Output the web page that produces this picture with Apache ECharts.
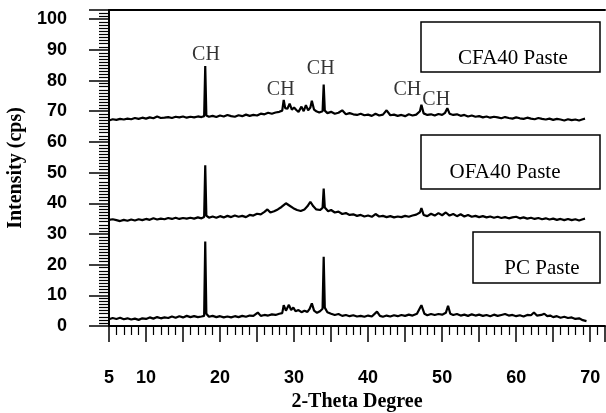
<!DOCTYPE html>
<html><head><meta charset="utf-8">
<script src="https://cdn.jsdelivr.net/npm/echarts@6/dist/echarts.min.js"></script>
<style>html,body{margin:0;padding:0;background:#fff}#c{width:606px;height:413px}</style>
</head><body><div id="c"></div>
<script>
// 2-Theta (deg), Intensity (cps) pairs
const cfa40 = [[5,67.0],[5.5,67.4],[6,67.2],[6.5,67.5],[7,67.3],[7.5,67.6],[8,67.4],[8.5,67.8],[9,67.5],[9.5,67.9],[10,67.6],[10.5,68.0],[11,67.7],[11.5,68.3],[12,67.8],[12.5,67.9],[13,68.1],[13.5,67.8],[14,68.2],[14.5,68.0],[15,68.3],[15.5,67.9],[16,68.2],[16.5,68.0],[17,68.3],[17.5,68.1],[17.85,68.4],[18.0,84.7],[18.15,68.6],[18.5,68.2],[19,68.5],[19.5,68.1],[20,68.6],[20.5,68.3],[21,68.8],[21.5,68.4],[22,68.2],[22.5,68.7],[23,68.4],[23.5,68.9],[24,68.5],[24.5,68.8],[25,68.6],[25.5,69.2],[26,69.0],[26.5,69.5],[27,69.2],[27.5,69.6],[28,69.8],[28.4,70.2],[28.6,73.7],[28.8,71.0],[29.1,70.8],[29.4,72.5],[29.7,70.5],[30.0,71.2],[30.3,70.4],[30.6,69.8],[31.0,71.5],[31.3,70.0],[31.6,72.0],[31.9,70.3],[32.2,71.2],[32.4,73.4],[32.7,70.5],[33.0,70.0],[33.4,69.6],[33.85,70.0],[34.0,78.7],[34.15,70.2],[34.5,69.4],[35,69.8],[35.5,69.2],[36,69.5],[36.5,70.3],[37,69.0],[37.5,69.4],[38,69.0],[38.5,68.8],[39,69.2],[39.5,68.7],[40,68.9],[40.5,68.5],[41,69.2],[41.5,68.6],[42,68.9],[42.5,70.3],[43,68.7],[43.5,68.9],[44,68.5],[44.5,68.8],[45,68.4],[45.5,69.0],[46,68.6],[46.5,68.9],[47.0,70.0],[47.2,72.1],[47.5,69.3],[48,68.8],[48.5,69.0],[49,68.6],[49.5,69.1],[50,68.8],[50.4,69.5],[50.7,71.0],[51.0,69.2],[51.5,68.8],[52,69.0],[52.5,68.5],[53,68.8],[53.5,68.3],[54,68.6],[54.5,68.2],[55,68.4],[55.5,68.0],[56,68.3],[56.5,67.9],[57,68.2],[57.5,68.0],[58,67.7],[58.5,68.1],[59,67.8],[59.5,67.6],[60,68.0],[60.5,67.7],[61,67.5],[61.5,67.9],[62,67.6],[62.5,67.4],[63,67.8],[63.5,67.5],[64,67.3],[64.5,67.6],[65,67.2],[65.5,67.5],[66,67.3],[66.5,67.0],[67,67.4],[67.5,67.1],[68,67.3],[68.5,67.0],[69,67.4],[69.3,67.6]];
const ofa40 = [[5,34.6],[5.5,34.8],[6,34.5],[6.5,34.2],[7,34.6],[7.5,34.3],[8,34.7],[8.5,34.4],[9,34.8],[9.5,34.5],[10,34.9],[10.5,34.6],[11,35.1],[11.5,34.7],[12,35.0],[12.5,34.8],[13,35.2],[13.5,34.9],[14,35.3],[14.5,34.9],[15,35.2],[15.5,35.0],[16,35.3],[16.5,35.0],[17,35.4],[17.5,35.1],[17.85,35.5],[18.0,52.4],[18.15,36.0],[18.5,35.3],[19,35.7],[19.5,35.3],[20,35.8],[20.5,35.4],[21,35.9],[21.5,35.5],[22,36.0],[22.5,35.6],[23,35.9],[23.5,35.5],[24,36.2],[24.5,36.0],[25,36.6],[25.5,36.4],[26,37.2],[26.4,38.0],[26.8,37.0],[27.3,37.4],[27.8,38.0],[28.3,38.8],[28.9,40.0],[29.4,39.2],[29.9,38.4],[30.4,37.8],[30.9,37.5],[31.4,38.0],[31.8,39.0],[32.2,40.5],[32.6,39.0],[33.0,38.0],[33.5,37.8],[33.85,38.5],[34.0,44.8],[34.15,38.6],[34.6,37.4],[35,37.8],[35.5,37.0],[36,37.3],[36.5,36.5],[37,36.8],[37.5,36.2],[38,36.4],[38.5,35.9],[39,36.2],[39.5,35.7],[40,36.0],[40.5,35.6],[41,36.5],[41.5,35.7],[42,35.9],[42.5,35.5],[43,35.8],[43.5,35.4],[44,35.7],[44.5,35.5],[45,35.9],[45.5,35.6],[46,36.0],[46.5,36.3],[47.0,37.0],[47.2,38.4],[47.5,36.2],[48,35.8],[48.5,36.6],[49,36.0],[49.5,36.8],[50,36.1],[50.5,37.0],[51,36.0],[51.5,36.5],[52,35.8],[52.5,36.4],[53,35.7],[53.5,36.2],[54,35.6],[54.5,35.9],[55,35.5],[55.5,35.8],[56,35.4],[56.5,35.7],[57,35.3],[57.5,35.6],[58,35.2],[58.5,35.5],[59,35.1],[59.5,35.4],[60,35.6],[60.5,35.1],[61,35.4],[61.5,35.0],[62,35.3],[62.5,34.9],[63,35.2],[63.5,34.8],[64,35.1],[64.5,34.7],[65,35.0],[65.5,34.6],[66,34.9],[66.5,34.5],[67,34.9],[67.5,34.5],[68,34.8],[68.5,34.4],[69,34.8],[69.3,35.0]];
const pc = [[5,2.2],[5.5,2.6],[6,2.3],[6.5,2.7],[7,2.2],[7.5,2.5],[8,2.1],[8.5,2.4],[9,2.0],[9.5,2.5],[10,2.3],[10.5,2.8],[11,2.4],[11.5,2.9],[12,2.5],[12.5,2.8],[13,2.6],[13.5,3.1],[14,2.7],[14.5,3.2],[15,2.8],[15.5,3.3],[16,2.9],[16.5,3.2],[17,2.9],[17.5,3.1],[17.85,3.3],[18.0,27.5],[18.15,4.0],[18.5,3.0],[19,3.3],[19.5,2.9],[20,3.2],[20.5,2.8],[21,3.1],[21.5,2.8],[22,3.2],[22.5,2.9],[23,3.3],[23.5,3.0],[24,3.4],[24.5,3.3],[25.1,4.4],[25.5,3.3],[26,3.6],[26.5,3.4],[27,3.8],[27.5,3.6],[28,4.0],[28.4,4.2],[28.6,6.8],[28.9,5.0],[29.3,6.9],[29.6,5.2],[29.9,6.0],[30.2,4.8],[30.6,5.2],[31.0,4.5],[31.4,5.0],[31.8,4.6],[32.1,5.6],[32.4,7.4],[32.7,5.0],[33.1,4.3],[33.5,4.8],[33.85,5.6],[34.0,22.6],[34.15,6.0],[34.5,4.5],[35,4.0],[35.5,3.6],[36,3.9],[36.5,3.3],[37,3.6],[37.5,3.2],[38,3.5],[38.5,3.1],[39,3.3],[39.5,3.0],[40,3.4],[40.5,3.1],[41.2,4.7],[41.6,3.3],[42,3.0],[42.5,3.4],[43,3.1],[43.5,3.5],[44,3.2],[44.5,3.6],[45,3.3],[45.5,3.7],[46,3.4],[46.6,4.0],[47.2,6.8],[47.6,4.0],[48,3.5],[48.5,3.9],[49,3.6],[49.5,3.9],[50,3.7],[50.5,4.3],[50.8,6.6],[51.1,4.0],[51.5,3.6],[52,3.9],[52.5,3.4],[53,3.7],[53.5,3.3],[54,3.8],[54.5,3.4],[55,3.7],[55.5,3.3],[56,3.6],[56.5,3.2],[57,3.7],[57.5,3.3],[58,3.6],[58.5,3.9],[59,3.4],[59.5,3.6],[60,3.2],[60.5,3.5],[61,3.1],[61.5,3.6],[62,3.5],[62.4,4.4],[62.8,3.4],[63.4,3.6],[63.8,4.0],[64.2,3.2],[64.6,3.4],[65,2.9],[65.5,3.2],[66,2.7],[66.5,3.0],[67,2.6],[67.5,2.8],[68,2.3],[68.5,2.5],[69,1.9],[69.5,1.6]];
// CH annotation anchors (2-Theta, intensity)
const chLabels = [[18.1,88.3],[28.2,76.9],[33.6,84.0],[45.3,76.9],[49.2,73.6]];
const xTickLabels = [5,10,20,30,40,50,60,70];
const yTickLabels = [0,10,20,30,40,50,60,70,80,90,100];
const sampleNames = ['CFA40 Paste','OFA40 Paste','PC Paste'];

const chart = echarts.init(document.getElementById('c'), null, {renderer:'canvas'});
const serif = '"Liberation Serif","Times New Roman",serif';
const sans = '"Liberation Sans",Arial,sans-serif';
const lineSeries = (d) => ({type:'line', data:d, showSymbol:false, symbol:'none', lineStyle:{color:'#000', width:2.2}, z:3, animation:false});
const boxes = [
  {x:421,y:22,w:179,h:50,tx:513,ty:58},
  {x:421,y:135,w:179,h:54,tx:505,ty:172},
  {x:473,y:232,w:127,h:51,tx:542,ty:268}
];
chart.setOption({
  animation:false,
  grid:{left:109, right:1, top:10, bottom:87, outerBoundsMode:'none', containLabel:false},
  xAxis:[{
    type:'value', min:5, max:72, interval:5,
    name:'2-Theta Degree', nameLocation:'middle', nameGap:66,
    nameTextStyle:{fontFamily:serif, fontWeight:'bold', fontSize:20, color:'#000'},
    axisLine:{show:true, lineStyle:{color:'#000', width:2}},
    axisTick:{show:true, length:16, lineStyle:{color:'#000', width:1.5}},
    minorTick:{show:true, splitNumber:5, length:9, lineStyle:{color:'#000', width:1.2}},
    splitLine:{show:false},
    axisLabel:{margin:43, fontFamily:sans, fontWeight:'bold', fontSize:18, color:'#000',
      formatter:(v)=> xTickLabels.indexOf(v)>=0 ? String(v) : ''}
  },{
    type:'value', position:'top', min:5, max:72,
    axisLine:{show:true, lineStyle:{color:'#000', width:2}},
    axisTick:{show:false}, axisLabel:{show:false}, splitLine:{show:false}
  }],
  yAxis:{
    type:'value', min:0, max:103, interval:10,
    name:'Intensity (cps)', nameLocation:'middle', nameGap:82, nameRotate:90,
    nameTextStyle:{fontFamily:serif, fontWeight:'bold', fontSize:20, color:'#000'},
    axisLine:{show:true, lineStyle:{color:'#000', width:2}},
    axisTick:{show:true, length:20, lineStyle:{color:'#000', width:1.5}},
    minorTick:{show:true, splitNumber:10, length:10, lineStyle:{color:'#000', width:1.2}},
    splitLine:{show:false},
    axisLabel:{margin:42, fontFamily:sans, fontWeight:'bold', fontSize:18, color:'#000',
      formatter:(v)=> yTickLabels.indexOf(v)>=0 ? String(v) : ''}
  },
  series:[
    lineSeries(cfa40), lineSeries(ofa40), lineSeries(pc),
    {type:'scatter', data:chLabels, symbolSize:1, itemStyle:{color:'rgba(0,0,0,0)'},
     label:{show:true, position:'inside', formatter:'CH', fontFamily:serif, fontSize:20, color:'#000'}, z:4}
  ],
  graphic: boxes.map((b,i)=>({
    type:'group', children:[
      {type:'rect', shape:{x:b.x, y:b.y, width:b.w, height:b.h}, style:{fill:'#fff', stroke:'#000', lineWidth:1.5}},
      {type:'text', x:b.tx, y:b.ty, style:{text:sampleNames[i], fontFamily:serif, fontSize:21, fill:'#000', align:'center', verticalAlign:'middle'}}
    ]
  }))
});
</script></body></html>
